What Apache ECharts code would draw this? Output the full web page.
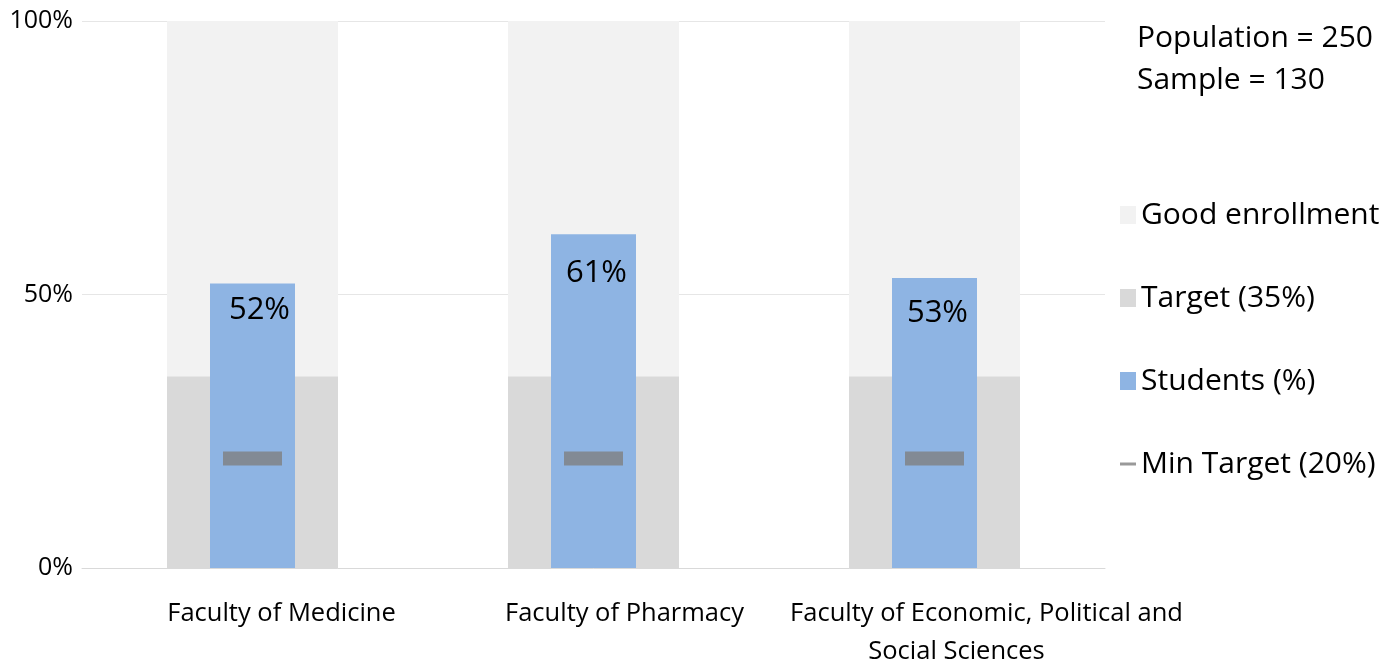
<!DOCTYPE html>
<html>
<head>
<meta charset="utf-8">
<script src="https://cdn.jsdelivr.net/npm/echarts@6/dist/echarts.min.js"></script>
<style>
html,body{margin:0;padding:0;background:#fff;}
#c{width:1388px;height:662px;}
</style>
</head>
<body>
<div id="c"></div>
<script>
const categories = ['Faculty of Medicine', 'Faculty of Pharmacy', 'Faculty of Economic, Political and\nSocial Sciences'];
const goodEnrollment = [100, 100, 100];
const target = [35, 35, 35];
const students = [52, 61, 53];
const minTarget = [20, 20, 20];
const yTicks = [0, 50, 100];
const infoText = ['Population = 250', 'Sample = 130'];

const FONT = 'Open Sans';
const chart = echarts.init(document.getElementById('c'), null, {renderer: 'canvas'});

// styling helpers (not data)
const labelShift = [[58], [62], [104, 44]];
const valueLabelOffsets = [[0, 6], [-4, 18], [-4, 15]];

chart.setOption({
  animation: false,
  textStyle: {fontFamily: FONT, color: '#000'},
  title: {
    text: infoText.join('\n'),
    left: 1132, top: 12,
    textStyle: {fontFamily: FONT, fontSize: 30, fontWeight: 'normal', color: '#000', lineHeight: 42}
  },
  legend: {
    orient: 'vertical',
    left: 1115, top: 195,
    itemWidth: 16, itemHeight: 18, itemGap: 53, itemTextGap: 14,
    textStyle: {fontFamily: FONT, fontSize: 30, color: '#000', lineHeight: 30},
    data: [
      {name: 'Good enrollment', icon: 'rect'},
      {name: 'Target (35%)', icon: 'rect'},
      {name: 'Students (%)', icon: 'rect'},
      {name: 'Min Target (20%)', icon: 'path://M0,0 L16,0 L16,3 L0,3 Z'}
    ]
  },
  grid: {left: 82, right: 283, top: 21, bottom: 94, containLabel: false, outerBoundsMode: 'none'},
  xAxis: [{
    type: 'category',
    data: categories,
    axisTick: {show: false},
    axisLine: {lineStyle: {color: '#d9d9d9', width: 1}},
    z: 5,
    axisLabel: {
      margin: 27,
      interval: 0,
      formatter: function (v, i) {
        const lines = v.split('\n');
        return lines.map((l, j) => '{s' + i + '_' + j + '|' + l + '}').join('\n');
      },
      rich: (function () {
        const r = {};
        labelShift.forEach((arr, i) => arr.forEach((p, j) => {
          r['s' + i + '_' + j] = {fontFamily: FONT, fontSize: 25.5, color: '#000', lineHeight: 38, padding: [0, 0, 0, p]};
        }));
        return r;
      })()
    }
  }, {
    type: 'category',
    data: categories,
    position: 'bottom',
    show: false
  }],
  yAxis: {
    type: 'value',
    min: 0, max: 100, interval: 50,
    axisLine: {show: false},
    axisTick: {show: false},
    splitLine: {lineStyle: {color: '#e6e6e6', width: 1}},
    axisLabel: {margin: 9, fontFamily: FONT, fontSize: 25, color: '#000', formatter: v => v + '%'}
  },
  series: [
    {
      name: 'Good enrollment', type: 'bar', data: goodEnrollment, xAxisIndex: 0,
      barWidth: 171, barGap: '-100%', z: 1,
      itemStyle: {color: '#f2f2f2'}
    },
    {
      name: 'Target (35%)', type: 'bar', data: target, xAxisIndex: 0,
      barWidth: 171, barGap: '-100%', z: 2,
      itemStyle: {color: '#d9d9d9'}
    },
    {
      name: 'Students (%)', type: 'bar', xAxisIndex: 1,
      data: students.map((v, i) => ({value: v, label: {offset: valueLabelOffsets[i]}})),
      barWidth: 85, z: 3,
      itemStyle: {color: '#8eb4e3'},
      label: {
        show: true, position: 'insideTopRight', distance: 5,
        fontFamily: FONT, fontSize: 31, color: '#000',
        formatter: p => p.value + '%'
      }
    },
    {
      name: 'Min Target (20%)', type: 'scatter', data: minTarget, xAxisIndex: 1,
      symbol: 'rect', symbolSize: [59, 14], z: 4,
      itemStyle: {color: '#808080'}
    }
  ]
});
</script>
</body>
</html>
